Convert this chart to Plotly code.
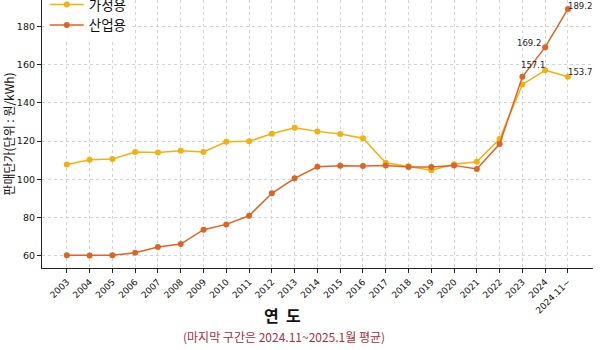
import plotly.graph_objects as go

categories = ["2003", "2004", "2005", "2006", "2007", "2008", "2009", "2010", "2011",
              "2012", "2013", "2014", "2015", "2016", "2017", "2018", "2019", "2020",
              "2021", "2022", "2023", "2024", "2024.11~"]
household = [107.8, 110.3, 110.6, 114.3, 114.1, 115.0, 114.3, 119.7, 119.9,
             123.9, 127.0, 125.1, 123.7, 121.5, 108.7, 106.8, 104.7, 107.9,
             109.2, 121.1, 149.7, 157.1, 153.7]
industrial = [60.2, 60.1, 60.2, 61.6, 64.6, 66.1, 73.6, 76.4, 80.9,
              92.7, 100.5, 106.6, 107.1, 107.0, 107.3, 106.4, 106.4, 107.3,
              105.4, 118.5, 153.7, 169.2, 189.2]
series_names = ["가정용", "산업용"]
y_ticks = [60, 80, 100, 120, 140, 160, 180]

YELLOW = "#F2B10C"
ORANGE = "#DE6424"
KFONT = "Noto Sans CJK KR"

fig = go.Figure()
fig.add_trace(go.Scatter(x=categories, y=household, mode="lines+markers", name=series_names[0],
                         line=dict(color=YELLOW, width=1.5), marker=dict(color=YELLOW, size=6)))
fig.add_trace(go.Scatter(x=categories, y=industrial, mode="lines+markers", name=series_names[1],
                         line=dict(color=ORANGE, width=1.5), marker=dict(color=ORANGE, size=6)))

labels = [
    (21, household[21], -12, 5),
    (21, industrial[21], -16, 4),
    (22, industrial[22], 12, 3),
    (22, household[22], 12, 5),
]
for xi, y, xs, ys in labels:
    fig.add_annotation(x=xi, y=y, text=f"{y:.1f}", showarrow=False, xshift=xs, yshift=ys,
                       font=dict(family="DejaVu Sans", size=8.5, color="#222"))

fig.add_annotation(x=0.437, y=-0.175, xref="paper", yref="paper", text="<b>연&nbsp;&nbsp;도</b>",
                   showarrow=False, yanchor="middle", font=dict(family=KFONT, size=16, color="#111"))
fig.add_annotation(x=0.44, y=-0.257, xref="paper", yref="paper",
                   text="(마지막 구간은 2024.11~2025.1월 평균)",
                   showarrow=False, yanchor="middle", font=dict(family=KFONT, size=12, color="#A3303C"))

fig.update_layout(
    width=600, height=350,
    margin=dict(l=42, r=7, t=0, b=82, autoexpand=False),
    plot_bgcolor="white", paper_bgcolor="white",
    showlegend=True,
    legend=dict(x=0.005, y=1.04, xanchor="left", yanchor="top", bgcolor="rgba(255,255,255,0.85)",
                font=dict(family=KFONT, size=13.5, color="#111"), itemwidth=34, tracegroupgap=0),
    xaxis=dict(type="category", range=[-1.09, 23.1], tickangle=-45,
               tickfont=dict(family="DejaVu Sans", size=9, color="#111"),
               showgrid=True, gridcolor="#d4d4d4", griddash="dot", gridwidth=1,
               showline=True, linecolor="#222", linewidth=1.2,
               ticks="outside", ticklen=4, tickcolor="#222", mirror=False, zeroline=False),
    yaxis=dict(range=[53.56, 193.9], tickvals=y_ticks,
               tickfont=dict(family="DejaVu Sans", size=9.5, color="#111"),
               showgrid=True, gridcolor="#d4d4d4", griddash="dot", gridwidth=1,
               showline=True, linecolor="#222", linewidth=1.2,
               ticks="outside", ticklen=4, tickcolor="#222", zeroline=False,
               title=dict(text="판매단가(단위 : 원/kWh)", font=dict(family=KFONT, size=12, color="#111"),
                          standoff=3)),
)

fig.write_html("out.html")
